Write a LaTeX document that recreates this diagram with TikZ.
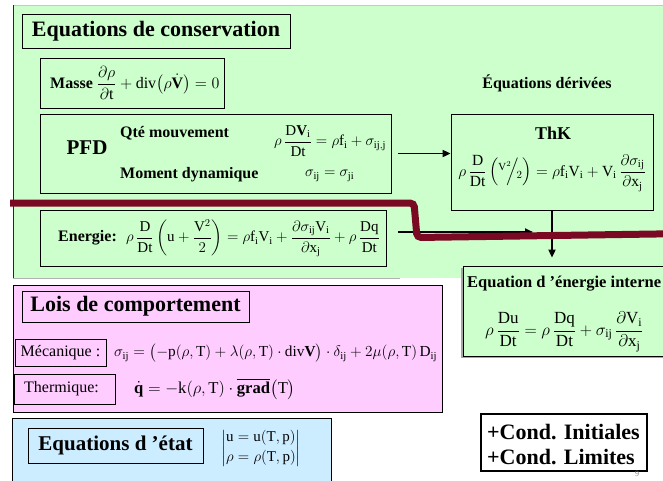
\RequirePackage{fix-cm}
\documentclass[tikz,border=0pt]{standalone}
\usepackage{amsmath,amssymb}
\usepackage{fontspec}
\setmainfont{Liberation Serif}
\usetikzlibrary{arrows.meta}
\definecolor{gfill}{HTML}{CCFFCC}
\definecolor{pfill}{HTML}{FFCCFF}
\definecolor{bfill}{HTML}{CCECFF}
\definecolor{maroon}{HTML}{7A0A24}
\newcommand{\rmm}[1]{\mathrm{#1}}
\tikzset{
  box/.style={draw=black, line width=0.8pt, inner sep=0pt},
  gbox/.style={box, fill=gfill},
  arr/.style={-{Triangle[length=8pt,width=7pt]}, line width=1.8pt, black},
  ttl/.style={font=\fontsize{22}{26}\selectfont\bfseries, inner sep=0pt},
  lbl/.style={font=\fontsize{16}{19}\selectfont\bfseries, inner sep=0pt},
  eqn/.style={font=\fontsize{15}{18}\selectfont, inner sep=0pt},
  reg/.style={font=\fontsize{16}{19}\selectfont, inner sep=0pt},
}
\begin{document}
\begin{tikzpicture}[x=1pt,y=-1pt]
\useasboundingbox (0,0) rectangle (663,480);
% green region
\fill[gfill] (13,5) rectangle (690,278);
\draw[gray!45, line width=1pt] (13,5) -- (690,5);
\draw[black!85, line width=1pt] (13,5) -- (13,278);
\draw[gray!60, line width=1.5pt] (13,278.5) -- (400,278.5);
% conservation boxes
\node[gbox, minimum width=268pt, minimum height=34pt] (title1) at (156,31) {};
\node[ttl] at (title1) {Equations de conservation};
\node[gbox, minimum width=184pt, minimum height=50pt] (masse) at (132,83) {};
\node[eqn, font=\fontsize{16}{19}\selectfont, anchor=west] (masseq) at (50,83) {\textbf{Masse} $\dfrac{\partial\rho}{\partial \rmm t}+\rmm{div}\bigl(\rho\dot{\mathbf V}\bigr)=0$};
\node[gbox, minimum width=351pt, minimum height=79pt] (pfd) at (215.5,153.5) {};
\node[font=\fontsize{21}{24}\selectfont\bfseries, inner sep=0pt] (pfdt) at (87,148) {PFD};
\node[lbl, anchor=west] (qte) at (120,133) {Qté mouvement};
\node[lbl, anchor=west] (mom) at (120,175) {Moment dynamique};
\node[eqn, anchor=west] (qteq) at (274,141) {$\rho\,\dfrac{\rmm D\mathbf V_{\rmm i}}{\rmm{Dt}}=\rho \rmm f_{\rmm i}+\sigma_{\rmm{ij,j}}$};
\node[eqn, anchor=west] (momeq) at (305,176) {$\sigma_{\rmm{ij}}=\sigma_{\rmm{ji}}$};
\node[gbox, minimum width=346pt, minimum height=56pt] (ener) at (213,238) {};
\node[lbl, anchor=west] (enert) at (58,238) {Energie:};
\node[eqn, anchor=west] (enereq) at (126,238) {$\rho\,\dfrac{\rmm D}{\rmm{Dt}}\left(\rmm u+\dfrac{\rmm V^2}{2}\right)=\rho \rmm f_{\rmm i}\rmm V_{\rmm i}+\dfrac{\partial\sigma_{\rmm{ij}}\rmm V_{\rmm i}}{\partial \rmm x_{\rmm j}}+\rho\,\dfrac{\rmm{Dq}}{\rmm{Dt}}$};
% derived equations
\node[font=\fontsize{16}{19}\selectfont\bfseries, inner sep=0pt] (deriv) at (547,83) {Équations dérivées};
\node[gbox, minimum width=202pt, minimum height=96pt] (thk) at (552,162) {};
\node[font=\fontsize{18}{21}\selectfont\bfseries, inner sep=0pt] (thkt) at (553,133) {ThK};
\node[eqn, font=\fontsize{15.5}{18}\selectfont] (thkeq) at (552,173) {$\rho\,\dfrac{\rmm D}{\rmm{Dt}}\left({}^{\rmm V^2}\!\!\Big/\!{}_{2}\right)=\rho \rmm f_{\rmm i}\rmm V_{\rmm i}+\rmm V_{\rmm i}\,\dfrac{\partial\sigma_{\rmm{ij}}}{\partial \rmm x_{\rmm j}}$};
\draw[gray!70, line width=1.5pt] (462,268) -- (462,357) -- (690,357);
\node[gbox, minimum width=227pt, minimum height=90pt] (intern) at (576.5,311) {};
\node[font=\fontsize{16.5}{19}\selectfont\bfseries, inner sep=0pt, anchor=west] (internt) at (467,284) {Equation d 'énergie interne};
\node[eqn, font=\fontsize{17}{20}\selectfont, anchor=west] (interneq) at (485,332) {$\rho\,\dfrac{\rmm{Du}}{\rmm{Dt}}=\rho\,\dfrac{\rmm{Dq}}{\rmm{Dt}}+\sigma_{\rmm{ij}}\,\dfrac{\partial \rmm V_{\rmm i}}{\partial \rmm x_{\rmm j}}$};
% arrows
\coordinate (e1) at (398,232);
\coordinate (e2) at (533,232);
\draw[arr] ([xshift=7pt]pfd.east) -- (pfd.east -| thk.west);
\draw[arr] (e1) -- (e2);
\draw[arr] (thk.south) -- ([yshift=8pt]intern.north -| thk.south);
% maroon line
\draw[maroon, line width=7pt, rounded corners=4pt] (10,203) -- (414,203) -- (417,237.5) -- (690,233.5);
% constitutive laws
\node[box, fill=pfill, minimum width=429pt, minimum height=127pt] (pink) at (227.5,348.5) {};
\node[box, fill=pfill, minimum width=227pt, minimum height=31pt] (title2) at (135.5,306.5) {};
\node[ttl] at (title2) {Lois de comportement};
\node[box, fill=pfill, minimum width=91pt, minimum height=27pt] (mec) at (60.5,352.5) {};
\node[reg] at (mec) {Mécanique :};
\node[box, fill=pfill, minimum width=101pt, minimum height=30pt] (therm) at (64.5,389) {};
\node[reg] at ([xshift=-3pt]therm.center) {Thermique:};
\node[eqn, font=\fontsize{15.3}{18}\selectfont, anchor=west] (meceq) at (114,353) {$\sigma_{\rmm{ij}}=\bigl(-\rmm p(\rho,\rmm T)+\lambda(\rho,\rmm T)\cdot\rmm{div}\mathbf V\bigr)\cdot\delta_{\rmm{ij}}+2\mu(\rho,\rmm T)\,\rmm D_{\rmm{ij}}$};
\node[eqn, font=\fontsize{16.6}{19}\selectfont, anchor=west] (thermeq) at (134,389) {$\dot{\mathbf q}=-\rmm k(\rho,\rmm T)\cdot\overline{\mathbf{grad}}\bigl(\rmm T\bigr)$};
% state equations
\node[box, fill=bfill, minimum width=319pt, minimum height=72pt] (blue) at (171.5,454) {};
\node[box, fill=bfill, minimum width=175pt, minimum height=35pt] (title3) at (115.5,445.5) {};
\node[font=\fontsize{21}{25}\selectfont\bfseries, inner sep=0pt] at (title3) {Equations d 'état};
\node[eqn, anchor=west] (state) at (221,448) {$\left|\begin{array}{@{}l@{}}\rmm u=\rmm u(\rmm T,\rmm p)\\[2pt] \rho=\rho(\rmm T,\rmm p)\end{array}\right|$};
% conditions
\node[draw=black, line width=2pt, fill=white, minimum width=166pt, minimum height=57pt, inner sep=0pt] (cond) at (564,442.5) {};
\node[ttl, anchor=west] (c1) at (487,432) {+Cond. Initiales};
\node[ttl, anchor=west] (c2) at (487,457) {+Cond. Limites};
\node[font=\fontsize{8}{9}\selectfont, text=gray, inner sep=0pt] (pg) at (637,474) {9};
\end{tikzpicture}
\end{document}
